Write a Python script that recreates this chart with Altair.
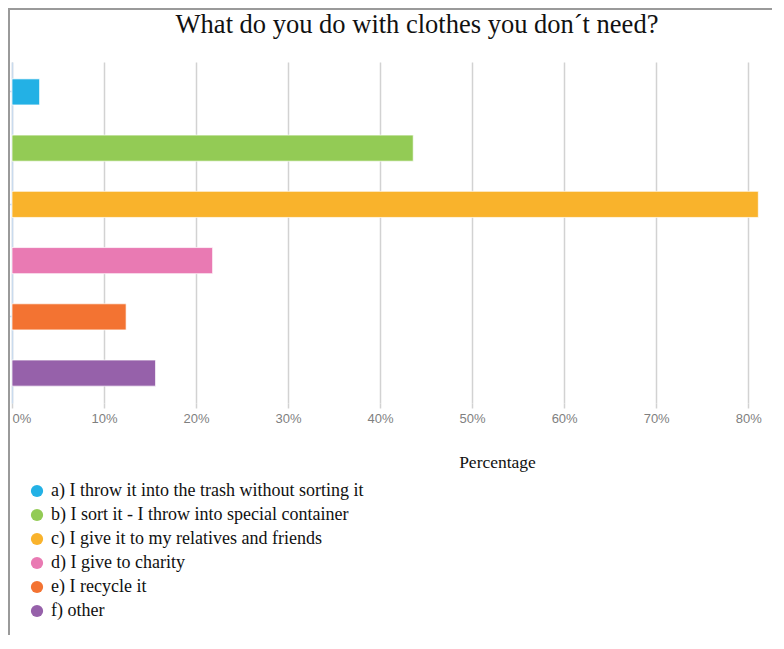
import altair as alt
import pandas as pd

# ---- data ----
labels = [
    "a) I throw it into the trash without sorting it",
    "b) I sort it - I throw into special container",
    "c) I give it to my relatives and friends",
    "d) I give to charity",
    "e) I recycle it",
    "f) other",
]
percentages = [3.0, 43.6, 81.1, 21.8, 12.4, 15.6]
colors = ["#23B1E5", "#93CB55", "#F9B32C", "#E97AB3", "#F37332", "#9661AA"]
x_ticks = [0, 10, 20, 30, 40, 50, 60, 70, 80]

df = pd.DataFrame({"label": labels, "pct": percentages})

W, H = 750, 341

bars = alt.Chart(df).mark_bar(
    stroke="white", strokeWidth=1, strokeOpacity=0.7
).encode(
    x=alt.X(
        "pct:Q",
        scale=alt.Scale(domain=[0, 81.5], nice=False, zero=True),
        axis=alt.Axis(
            values=x_ticks,
            labelExpr="datum.value + '%'",
            grid=True,
            gridColor="#d2d2d2",
            gridWidth=1.5,
            domain=False,
            ticks=True,
            tickColor="#d2d2d2",
            tickWidth=1.5,
            tickSize=5,
            labelColor="#7f7f7f",
            labelFont="Liberation Sans",
            labelFontSize=13,
            labelPadding=4,
            title="Percentage",
            titleFont="Liberation Serif",
            titleFontSize=17.5,
            titleFontWeight="normal",
            titleColor="#111111",
            titleX=485,
            titleY=59,
            titleBaseline="middle",
            titleAnchor="start",
            titleAlign="center",
        ),
    ),
    y=alt.Y(
        "label:N",
        sort=labels,
        scale=alt.Scale(paddingInner=0.536, paddingOuter=0.3),
        axis=alt.Axis(
            labels=False,
            title=None,
            values=[labels[0], labels[2], labels[4]],
            domain=True,
            domainColor="#c9dbee",
            domainWidth=1.5,
            ticks=True,
            tickColor="#c9dbee",
            tickSize=4,
            tickWidth=1.5,
            grid=False,
        ),
    ),
    color=alt.Color(
        "label:N",
        sort=labels,
        scale=alt.Scale(domain=labels, range=colors),
        legend=alt.Legend(
            title=None,
            orient="none",
            legendX=16,
            legendY=420,
            symbolType="circle",
            symbolSize=150,
            symbolStrokeWidth=0,
            labelFont="Liberation Serif",
            labelFontSize=18,
            labelColor="#111111",
            labelOffset=5,
            rowPadding=6,
            padding=0,
            labelLimit=500,
        ),
    ),
)

frame_df = pd.DataFrame({"k": [0]})
frame_left = alt.Chart(frame_df).mark_rule(color="#9a9a9a", strokeWidth=2).encode(
    x=alt.value(-3), y=alt.value(-54), y2=alt.value(H + 240)
)
frame_top = alt.Chart(frame_df).mark_rule(color="#9a9a9a", strokeWidth=2).encode(
    x=alt.value(-4), x2=alt.value(W + 10), y=alt.value(-53)
)

chart = alt.layer(bars, frame_left, frame_top).properties(
    width=W,
    height=H,
    autosize=alt.AutoSizeParams(type="none"),
    padding={"left": 4, "top": 54, "right": 10, "bottom": 232},
    title=alt.TitleParams(
        "What do you do with clothes you don´t need?",
        font="Liberation Serif",
        fontSize=26.5,
        fontWeight="normal",
        color="#111111",
        anchor="middle",
        dx=30,
        dy=53,
        offset=22,
    ),
).configure_view(stroke=None)

chart.save("out.html", embed_options={"renderer": "svg", "actions": False})
